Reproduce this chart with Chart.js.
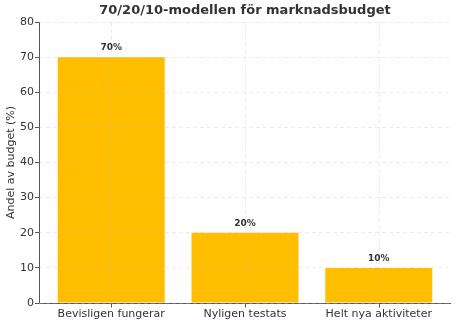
<!DOCTYPE html>
<html>
<head>
<meta charset="utf-8">
<script src="https://cdn.jsdelivr.net/npm/chart.js@4"></script>
<style>
  html, body { margin: 0; padding: 0; background: #fff; }
  #wrap { width: 457px; height: 323px; }
</style>
</head>
<body>
<div id="wrap"><canvas id="chart" width="457" height="323"></canvas></div>
<script>
// Budget split per activity type
const categories = ['Bevisligen fungerar', 'Nyligen testats', 'Helt nya aktiviteter'];
const shares = [70, 20, 10];
const yTicks = [0, 10, 20, 30, 40, 50, 60, 70, 80];
const chartTitle = '70/20/10-modellen för marknadsbudget';
const yTitle = 'Andel av budget (%)';

const FONT = "'DejaVu Sans', sans-serif";
const TEXT = '#333333';
const AXIS = '#555555';
const GRID = 'rgba(190,190,190,0.3)';

// Vertical grid + x tick marks, percent labels, title and the axis lines
const labelPlugin = {
    id: 'barLabels',
    afterDatasetsDraw(chart) {
        const ctx = chart.ctx;
        const meta = chart.getDatasetMeta(0);
        const area = chart.chartArea;
        const xs = chart.scales.x;
        const bottom = Math.round(area.bottom) + 0.5;
        ctx.save();
        ctx.lineWidth = 1;

        categories.forEach(function(c, i) {
            const px = Math.round(xs.getPixelForValue(i)) + 0.5;
            ctx.strokeStyle = GRID;
            ctx.setLineDash([4, 3]);
            ctx.beginPath();
            ctx.moveTo(px, area.top);
            ctx.lineTo(px, bottom);
            ctx.stroke();
            ctx.strokeStyle = AXIS;
            ctx.setLineDash([]);
            ctx.beginPath();
            ctx.moveTo(px, bottom);
            ctx.lineTo(px, bottom + 4);
            ctx.stroke();
        });

        ctx.font = 'bold 9px ' + FONT;
        ctx.fillStyle = TEXT;
        ctx.textAlign = 'center';
        ctx.textBaseline = 'bottom';
        meta.data.forEach(function(bar, i) {
            ctx.fillText(shares[i] + '%', bar.x, bar.y - 5);
        });
        ctx.font = 'bold 13px ' + FONT;
        ctx.textBaseline = 'middle';
        ctx.fillText(chartTitle, (area.left + area.right) / 2, 11);

        ctx.strokeStyle = AXIS;
        ctx.beginPath();
        ctx.moveTo(Math.round(area.left) + 0.5, area.top);
        ctx.lineTo(Math.round(area.left) + 0.5, bottom);
        ctx.lineTo(area.right, bottom);
        ctx.stroke();
        ctx.restore();
    }
};

const ctx = document.getElementById('chart').getContext('2d');
new Chart(ctx, {
    type: 'bar',
    data: {
        datasets: [{
            data: shares.map((v, i) => ({ x: i, y: v })),
            backgroundColor: '#FFBF00',
            borderWidth: 0,
            barPercentage: 0.8,
            categoryPercentage: 1.0
        }]
    },
    options: {
        responsive: false,
        animation: false,
        layout: { padding: { top: 22, right: 6, left: 5, bottom: 0 } },
        plugins: {
            legend: { display: false },
            tooltip: { enabled: false }
        },
        scales: {
            x: {
                type: 'linear',
                offset: false,
                min: -0.54,
                max: 2.54,
                afterBuildTicks(scale) {
                    scale.ticks = categories.map((c, i) => ({ value: i }));
                },
                grid: { display: false, tickLength: 4 },
                border: { display: false },
                ticks: {
                    color: TEXT,
                    font: { family: FONT, size: 11 },
                    padding: 1,
                    maxRotation: 0,
                    autoSkip: false,
                    callback: v => categories[v]
                },
                afterFit(scale) { scale.height = 20; }
            },
            y: {
                min: 0,
                max: 80,
                afterBuildTicks(scale) {
                    scale.ticks = yTicks.map(v => ({ value: v }));
                },
                grid: {
                    color: GRID,
                    tickColor: AXIS,
                    tickLength: 4,
                    z: 1
                },
                border: { display: false, dash: [4, 3] },
                ticks: {
                    color: TEXT,
                    font: { family: FONT, size: 11 },
                    padding: 1
                },
                title: {
                    display: true,
                    text: yTitle,
                    color: TEXT,
                    font: { family: FONT, size: 11 },
                    padding: { top: 0, bottom: 0 }
                },
                afterFit(scale) { scale.width = 34; }
            }
        }
    },
    plugins: [labelPlugin]
});
</script>
</body>
</html>
